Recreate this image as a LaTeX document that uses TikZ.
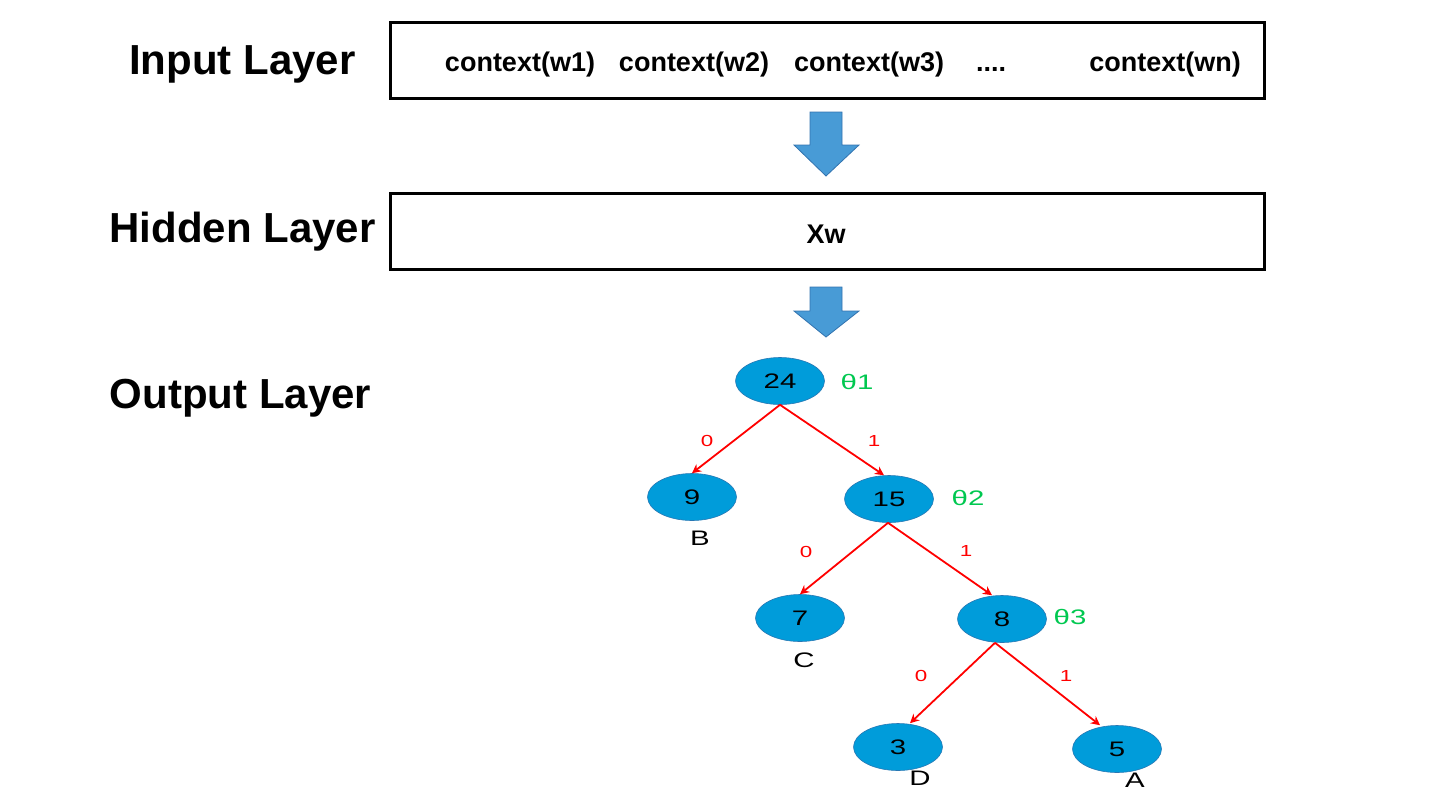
\documentclass[tikz,border=0pt]{standalone}
\usepackage{fontspec}
\setmainfont{Liberation Sans}
\usepackage{graphicx}
\usetikzlibrary{shapes.geometric,arrows.meta}
\definecolor{nodeblue}{RGB}{0,156,218}
\definecolor{nodeedge}{RGB}{40,120,180}
\definecolor{arrfill}{RGB}{72,155,214}
\definecolor{arredge}{RGB}{50,115,175}
\definecolor{thgreen}{RGB}{0,200,80}
\newcommand{\widetxt}[1]{\scalebox{1.4}[1]{#1}}
\tikzset{
  layerlabel/.style={font=\fontsize{42}{44}\selectfont\bfseries, anchor=base, inner sep=0},
  ctx/.style={font=\fontsize{27}{30}\selectfont\bfseries, anchor=base, inner sep=0},
  layerbox/.style={draw=black, line width=3pt},
  treenode/.style={ellipse, fill=nodeblue, draw=nodeedge, line width=0.6pt, minimum width=89pt, minimum height=47pt, inner sep=0, font=\fontsize{21}{23}\selectfont},
  theta/.style={text=thgreen, font=\fontsize{21}{23}\selectfont, inner sep=0},
  leaf/.style={text=black, font=\fontsize{21}{23}\selectfont, inner sep=0},
  bit/.style={text=red, font=\fontsize{16}{18}\selectfont, inner sep=0},
  edge/.style={draw=red, line width=1.8pt, -{Stealth[length=9pt,width=9pt]}},
  blockarrow/.style={fill=arrfill, draw=arredge, line width=0.8pt, line join=miter}
}
\begin{document}
\begin{tikzpicture}[x=1pt,y=-1pt]
\useasboundingbox (0,0) rectangle (1432,804);
% layer labels
\node[layerlabel] (inlab) at (242.5,74) {Input Layer};
\node[layerlabel] (hidlab) at (242.5,242) {Hidden Layer};
\node[layerlabel] (outlab) at (240.5,408) {Output Layer};
% boxes
\node[layerbox, minimum width=874pt, minimum height=76pt, inner sep=0] (inbox) at (827,60.5) {};
\node[layerbox, minimum width=874pt, minimum height=76pt, inner sep=0] (hidbox) at (827,231) {};
\node[ctx] (c1) at (520,71) {context(w1)};
\node[ctx] (c2) at (694,71) {context(w2)};
\node[ctx] (c3) at (869,71) {context(w3)};
\node[ctx] (cdots) at (991,71) {....};
\node[ctx] (cn) at (1165,71) {context(wn)};
\node[ctx] (xw) at (826,243) {Xw};
% block arrows
\draw[blockarrow] (810,112) -- (842,112) -- (842,145) -- (859,145) -- (826,176) -- (794,145) -- (810,145) -- cycle;
\draw[blockarrow] (810,287) -- (842,287) -- (842,311) -- (859,311) -- (826,337) -- (794,311) -- (810,311) -- cycle;
% tree
\node[treenode] (n24) at (780,381) {\widetxt{24}};
\node[treenode] (n9) at (692,497) {\widetxt{9}};
\node[treenode] (n15) at (889,499) {\widetxt{15}};
\node[treenode] (n7) at (800,618) {\widetxt{7}};
\node[treenode] (n8) at (1002,619) {\widetxt{8}};
\node[treenode] (n3) at (898,747) {\widetxt{3}};
\node[treenode] (n5) at (1117,749) {\widetxt{5}};
\node[theta] (t1) at (857,382) {\widetxt{θ1}};
\node[theta] (t2) at (968,498) {\widetxt{θ2}};
\node[theta] (t3) at (1070,617) {\widetxt{θ3}};
\node[leaf] (lB) at (700,538) {\widetxt{B}};
\node[leaf] (lC) at (804,660) {\widetxt{C}};
\node[leaf] (lD) at (920,778) {\widetxt{D}};
\node[leaf] (lA) at (1135,780) {\widetxt{A}};
\draw[edge] (n24.south) -- (n9.north);
\draw[edge] (n24.south) -- ([xshift=-5pt]n15.north);
\draw[edge] ([xshift=-1pt]n15.south) -- (n7.north);
\draw[edge] ([xshift=-1pt]n15.south) -- ([xshift=-10pt]n8.north);
\draw[edge] ([xshift=-7pt]n8.south) -- ([xshift=12pt]n3.north);
\draw[edge] ([xshift=-7pt]n8.south) -- ([xshift=-17pt]n5.north);
\node[bit] (b1) at (707,441) {\widetxt{0}};
\node[bit] (b2) at (874,441) {\widetxt{1}};
\node[bit] (b3) at (806,552) {\widetxt{0}};
\node[bit] (b4) at (966,551) {\widetxt{1}};
\node[bit] (b5) at (921,676) {\widetxt{0}};
\node[bit] (b6) at (1066,676) {\widetxt{1}};
\end{tikzpicture}
\end{document}
